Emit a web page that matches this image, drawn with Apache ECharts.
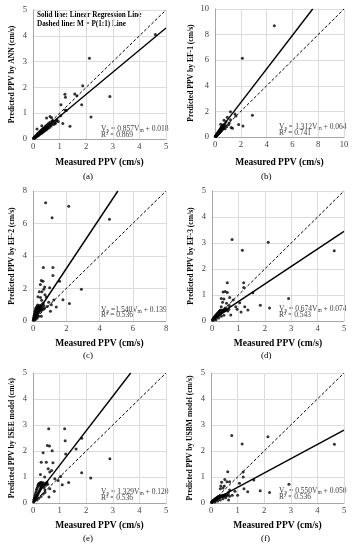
<!DOCTYPE html>
<html><head><meta charset="utf-8">
<script src="https://cdn.jsdelivr.net/npm/echarts@6/dist/echarts.min.js"></script>
<style>html,body{margin:0;padding:0;background:#fff}#c{width:355px;height:550px}</style>
</head><body><div id="c"></div>
<script>
// ---------- data ----------
const panelLabels = ['(a)', '(b)', '(c)', '(d)', '(e)', '(f)'];
const yTitles = ['Predicted PPV by ANN (cm/s)', 'Predicted PPV by EF-1 (cm/s)', 'Predicted PPV by EF-2 (cm/s)',
  'Predicted PPV by EF-3 (cm/s)', 'Predicted PPV by ISEE model (cm/s)', 'Predicted PPV by USBM model (cm/s)'];
const xTitle = 'Measured PPV (cm/s)';
const axisMax = [5, 10, 8, 5, 5, 5];
const axisStep = [1, 2, 2, 1, 1, 1];
const slopes = [0.857, 1.312, 1.540, 0.674, 1.329, 0.550];
const intercepts = [0.018, 0.064, 0.139, 0.074, 0.120, 0.050];
const r2Values = ['0.869', '0.741', '0.536', '0.543', '0.536', '0.536'];
const legendLines = ['Solid line: Linear Regression Line', 'Dashed line: M = P(1:1) Line'];

const annPts = [[4.6,4.05],[2.12,3.13],[2.89,1.65],[2.18,0.85],[1.87,2.06],[1.83,1.33],[1.2,1.73],[1.22,1.62],[1.57,1.74],[1.65,1.68],[1.05,1.33],[1.39,0.49],[1.12,0.6],[1.2,1.12],[1.25,1.1],[1.04,0.9],[0.15,0.39],[0.64,0.87],[0.51,0.81],[0.33,0.51],[0.83,0.59],[0.7,0.82],[0.9,0.75],[0.95,0.68],[0.75,0.7],
[0.02,0.02],[0.03,0.05],[0.04,0.03],[0.05,0.07],[0.06,0.04],[0.07,0.09],[0.08,0.05],[0.09,0.11],[0.10,0.08],[0.11,0.13],[0.12,0.09],[0.13,0.15],[0.14,0.10],[0.15,0.17],[0.16,0.12],[0.17,0.20],[0.18,0.13],[0.19,0.16],[0.20,0.22],[0.21,0.14],[0.22,0.19],[0.23,0.26],[0.24,0.17],[0.25,0.21],[0.26,0.29],[0.27,0.19],[0.28,0.24],[0.29,0.32],[0.30,0.21],[0.31,0.27],[0.32,0.35],[0.33,0.23],[0.34,0.30],[0.35,0.38],[0.36,0.26],[0.37,0.33],[0.38,0.42],[0.39,0.28],[0.40,0.36],[0.42,0.44],[0.43,0.31],[0.44,0.39],[0.46,0.48],[0.47,0.34],[0.48,0.42],[0.50,0.52],[0.51,0.37],[0.53,0.45],[0.55,0.57],[0.56,0.41],[0.58,0.49],[0.60,0.62],[0.62,0.45],[0.64,0.53],[0.66,0.66],[0.68,0.50],[0.71,0.58],[0.74,0.72],[0.77,0.56],[0.80,0.66],[0.84,0.62],[0.88,0.70]];

const ef1Pts = [[4.6,8.7],[2.12,6.15],[2.9,1.7],[2.17,0.85],[1.83,0.98],[1.2,1.98],[1.55,1.8],[1.62,1.65],[1.2,1.35],[1.1,1.1],[1.25,0.75],[1.35,0.68],[1.05,0.95],[0.44,1.0],[0.78,1.02],[0.9,0.8],[0.7,1.3],[0.95,1.55],[0.5,0.8],[0.85,1.2],
[0.02,0.04],[0.04,0.08],[0.05,0.03],[0.07,0.12],[0.08,0.06],[0.10,0.16],[0.11,0.09],[0.13,0.20],[0.14,0.12],[0.16,0.24],[0.17,0.15],[0.19,0.28],[0.20,0.18],[0.22,0.33],[0.23,0.21],[0.25,0.37],[0.26,0.25],[0.28,0.41],[0.29,0.28],[0.31,0.45],[0.32,0.31],[0.34,0.50],[0.35,0.34],[0.37,0.55],[0.38,0.38],[0.40,0.60],[0.41,0.42],[0.43,0.64],[0.44,0.45],[0.46,0.70],[0.48,0.48],[0.50,0.75],[0.52,0.52],[0.54,0.82],[0.56,0.58],[0.58,0.88],[0.60,0.62],[0.63,0.95],[0.66,0.68],[0.70,0.74],[0.74,0.85],[0.78,0.65]];

const ef2Pts = [[0.76,7.28],[1.15,6.36],[2.15,7.06],[4.6,6.26],[2.91,1.95],[2.19,1.07],[0.62,3.3],[1.2,3.3],[1.2,2.8],[0.5,2.5],[0.6,2.45],[0.44,2.25],[1.6,2.45],[0.38,1.8],[0.54,1.8],[0.72,1.62],[1.8,1.31],[1.4,0.86],[0.8,1.48],[0.94,1.15],[0.52,1.27],[1.0,2.05],[1.25,1.3],[1.1,1.0],[0.7,2.1],[0.65,1.95],[0.3,1.5],[0.45,1.45],[0.85,0.9],[1.05,0.6],[0.6,1.1],[0.5,0.3],
[0.02,0.05],[0.03,0.15],[0.04,0.08],[0.05,0.25],[0.06,0.12],[0.07,0.35],[0.08,0.18],[0.09,0.45],[0.10,0.22],[0.11,0.55],[0.12,0.28],[0.13,0.62],[0.14,0.32],[0.15,0.70],[0.16,0.38],[0.17,0.78],[0.18,0.42],[0.19,0.25],[0.20,0.50],[0.21,0.85],[0.22,0.56],[0.23,0.30],[0.24,0.62],[0.25,0.92],[0.26,0.66],[0.27,0.40],[0.28,0.72],[0.29,0.98],[0.30,0.78],[0.31,0.48],[0.32,0.82],[0.33,0.55],[0.34,0.88],[0.36,0.62],[0.38,0.95],[0.40,0.70],[0.42,0.82],[0.44,0.60],[0.46,0.90],[0.48,0.75],[0.50,0.98],[0.53,0.68],[0.56,0.85],[0.60,0.72],[0.65,0.95],[0.70,0.80],[0.12,0.08],[0.18,0.12],[0.25,0.18],[0.35,0.3]];

const ef3Pts = [[0.76,3.13],[2.13,3.03],[1.15,2.72],[4.63,2.7],[2.9,0.87],[2.18,0.5],[1.83,0.61],[0.58,1.47],[1.2,1.47],[1.2,1.29],[1.55,1.09],[1.05,0.7],[1.36,0.42],[1.24,0.55],[0.42,1.12],[0.5,1.13],[0.58,1.1],[0.35,0.87],[0.67,0.9],[0.8,0.81],[0.45,0.85],[0.4,0.72],[0.55,0.68],[0.65,0.6],[0.9,0.55],[1.1,0.35],[0.71,0.23],[0.95,0.45],[0.35,0.55],[0.5,0.5],
[0.02,0.03],[0.03,0.07],[0.04,0.04],[0.05,0.10],[0.06,0.06],[0.07,0.12],[0.08,0.08],[0.09,0.15],[0.10,0.09],[0.11,0.17],[0.12,0.11],[0.13,0.20],[0.14,0.13],[0.15,0.22],[0.16,0.14],[0.17,0.25],[0.18,0.16],[0.19,0.27],[0.20,0.18],[0.21,0.30],[0.22,0.20],[0.23,0.32],[0.24,0.21],[0.25,0.34],[0.26,0.23],[0.27,0.36],[0.28,0.25],[0.29,0.38],[0.30,0.26],[0.31,0.40],[0.32,0.28],[0.33,0.42],[0.34,0.30],[0.36,0.33],[0.38,0.40],[0.40,0.34],[0.42,0.42],[0.44,0.37],[0.46,0.44],[0.48,0.38],[0.50,0.45],[0.53,0.40],[0.56,0.46],[0.60,0.38],[0.64,0.45],[0.15,0.05],[0.25,0.12],[0.35,0.18],[0.45,0.22]];

const iseePts = [[0.59,2.86],[1.19,2.86],[1.21,2.39],[0.54,2.21],[0.62,2.19],[0.38,1.93],[0.72,2.01],[1.62,2.08],[1.83,2.49],[2.89,1.7],[1.83,1.16],[2.17,0.96],[1.34,0.79],[1.04,1.02],[1.23,1.88],[0.31,1.57],[0.5,1.57],[0.75,1.55],[0.57,1.32],[0.63,1.19],[0.28,1.1],[0.44,1.0],[0.82,0.93],[0.94,0.87],[0.6,0.23],[0.63,0.55],[1.1,0.7],[0.7,1.25],[0.5,0.75],[0.45,0.4],[0.8,0.45],
[0.02,0.04],[0.03,0.12],[0.04,0.07],[0.05,0.20],[0.06,0.10],[0.07,0.28],[0.08,0.14],[0.09,0.35],[0.10,0.18],[0.11,0.42],[0.12,0.22],[0.13,0.50],[0.14,0.26],[0.15,0.56],[0.16,0.30],[0.17,0.62],[0.18,0.34],[0.19,0.68],[0.20,0.38],[0.21,0.72],[0.22,0.42],[0.23,0.76],[0.24,0.46],[0.25,0.65],[0.26,0.50],[0.27,0.78],[0.28,0.55],[0.29,0.70],[0.30,0.58],[0.31,0.80],[0.32,0.62],[0.34,0.74],[0.36,0.66],[0.38,0.78],[0.40,0.70],[0.42,0.60],[0.45,0.75],[0.48,0.68],[0.52,0.80],[0.55,0.72],[0.15,0.12],[0.22,0.18],[0.30,0.25],[0.38,0.35],[0.45,0.5]];

const usbmPts = [[0.78,2.6],[2.14,2.55],[1.17,2.27],[4.64,2.26],[2.93,0.72],[2.2,0.4],[1.85,0.47],[0.63,1.2],[1.21,1.19],[1.21,1.0],[1.61,0.88],[1.07,0.76],[1.38,0.43],[1.24,0.55],[0.6,0.82],[0.52,0.9],[0.4,0.8],[0.7,0.82],[0.37,0.65],[0.5,0.65],[0.45,0.58],[0.35,0.55],[0.9,0.45],[0.8,0.3],[0.66,0.12],[1.0,0.3],[0.7,0.5],[0.65,0.4],
[0.02,0.02],[0.03,0.05],[0.04,0.03],[0.05,0.07],[0.06,0.04],[0.07,0.09],[0.08,0.06],[0.09,0.10],[0.10,0.07],[0.11,0.12],[0.12,0.08],[0.13,0.13],[0.14,0.10],[0.15,0.15],[0.16,0.11],[0.17,0.16],[0.18,0.12],[0.19,0.18],[0.20,0.14],[0.21,0.19],[0.22,0.15],[0.23,0.21],[0.24,0.16],[0.25,0.22],[0.26,0.18],[0.27,0.24],[0.28,0.19],[0.29,0.25],[0.30,0.20],[0.31,0.26],[0.32,0.22],[0.34,0.27],[0.36,0.23],[0.38,0.28],[0.40,0.24],[0.42,0.29],[0.44,0.25],[0.46,0.30],[0.48,0.26],[0.50,0.31],[0.53,0.27],[0.56,0.32],[0.60,0.28],[0.65,0.33],[0.70,0.26],[0.15,0.04],[0.25,0.08],[0.35,0.12],[0.45,0.16],[0.55,0.2]];

const panelPoints = [annPts, ef1Pts, ef2Pts, ef3Pts, iseePts, usbmPts];

// ---------- layout ----------
const boxes = [
  {left: 33, top: 10, width: 133, height: 129},
  {left: 215, top: 9, width: 129, height: 128},
  {left: 33, top: 191, width: 133, height: 130},
  {left: 212, top: 191, width: 132, height: 130},
  {left: 33, top: 373, width: 133, height: 130},
  {left: 211, top: 373, width: 133, height: 130}
];
const xNameGaps = [19, 21, 18, 18, 18, 18];
const yNameGaps = [17, 20, 17, 17, 17, 17];
const eqPos = [[101, 128, 136], [279, 126, 134], [101, 309, 316], [279, 308, 316], [101, 491, 499], [279, 490, 498]];
const labelPos = [[89, 178], [267, 178], [89, 357], [267, 357], [89, 540], [267, 540]];

const SERIF = '"Liberation Serif", "Times New Roman", serif';
const chart = echarts.init(document.getElementById('c'), null, {renderer: 'canvas'});

const grid = [], xAxis = [], yAxis = [], series = [], graphic = [];
boxes.forEach((b, i) => {
  grid.push(Object.assign({containLabel: false}, b));
  const common = {
    type: 'value', min: 0, max: axisMax[i], interval: axisStep[i], gridIndex: i,
    axisLine: {show: true, lineStyle: {color: '#a6a6a6', width: 1}},
    axisTick: {show: false},
    splitLine: {show: true, lineStyle: {color: '#dcdcdc', width: 1}},
    axisLabel: {fontFamily: SERIF, fontSize: 8.5, color: '#404040'},
    nameLocation: 'middle',
    nameTextStyle: {fontFamily: SERIF, fontWeight: 'bold', color: '#000'}
  };
  xAxis.push(Object.assign({}, common, {
    name: xTitle, nameGap: xNameGaps[i],
    axisLabel: Object.assign({}, common.axisLabel, {margin: 3}),
    nameTextStyle: Object.assign({}, common.nameTextStyle, {fontSize: 9.5})
  }));
  yAxis.push(Object.assign({}, common, {
    name: yTitles[i], nameGap: yNameGaps[i],
    axisLabel: Object.assign({}, common.axisLabel, {margin: 6}),
    nameTextStyle: Object.assign({}, common.nameTextStyle, {fontSize: 7.6})
  }));
  series.push({
    type: 'scatter', xAxisIndex: i, yAxisIndex: i, data: panelPoints[i],
    symbol: 'circle', symbolSize: 3, itemStyle: {color: '#000'}, silent: true, z: 3
  });
  const m = axisMax[i], a = slopes[i], c = intercepts[i];
  const xEnd = Math.min(m, (m - c) / a);
  series.push({
    type: 'line', xAxisIndex: i, yAxisIndex: i, data: [[0, c], [xEnd, a * xEnd + c]],
    symbol: 'none', lineStyle: {color: '#000', width: 1.4}, silent: true, z: 4, animation: false
  });
  series.push({
    type: 'line', xAxisIndex: i, yAxisIndex: i, data: [[0, 0], [m, m]],
    symbol: 'none', lineStyle: {color: '#000', width: 1, type: [3, 2]}, silent: true, z: 4, animation: false
  });
  const p = eqPos[i];
  const eqSep = i === 2 ? ' =' : ' = ';
  graphic.push({
    type: 'text', left: p[0], top: p[1] - 5,
    style: {
      text: '{t|V}{s|p}{t|' + eqSep + slopes[i].toFixed(3) + 'V}{s|m}{t| + ' + intercepts[i].toFixed(3) + '}',
      rich: {
        t: {fontFamily: SERIF, fontSize: 7.5, fill: '#404040', verticalAlign: 'middle', lineHeight: 10},
        s: {fontFamily: SERIF, fontSize: 5.5, fill: '#404040', verticalAlign: 'bottom', lineHeight: 10, padding: [5, 0, 0, 0]}
      }
    }
  });
  graphic.push({
    type: 'text', left: p[0], top: p[2] - 5,
    style: {text: 'R\u00b2 = ' + r2Values[i], font: '7.5px ' + SERIF, fill: '#404040'}
  });
  graphic.push({
    type: 'text', left: labelPos[i][0] - 6, top: labelPos[i][1] - 6,
    style: {text: panelLabels[i], font: '9px ' + SERIF, fill: '#000'}
  });
});
legendLines.forEach((t, k) => {
  graphic.push({
    type: 'text', left: 37, top: 12 + k * 8.3,
    style: {text: t, font: 'bold 7.2px ' + SERIF, fill: '#000'}
  });
});

chart.setOption({animation: false, grid, xAxis, yAxis, series, graphic});
</script></body></html>
